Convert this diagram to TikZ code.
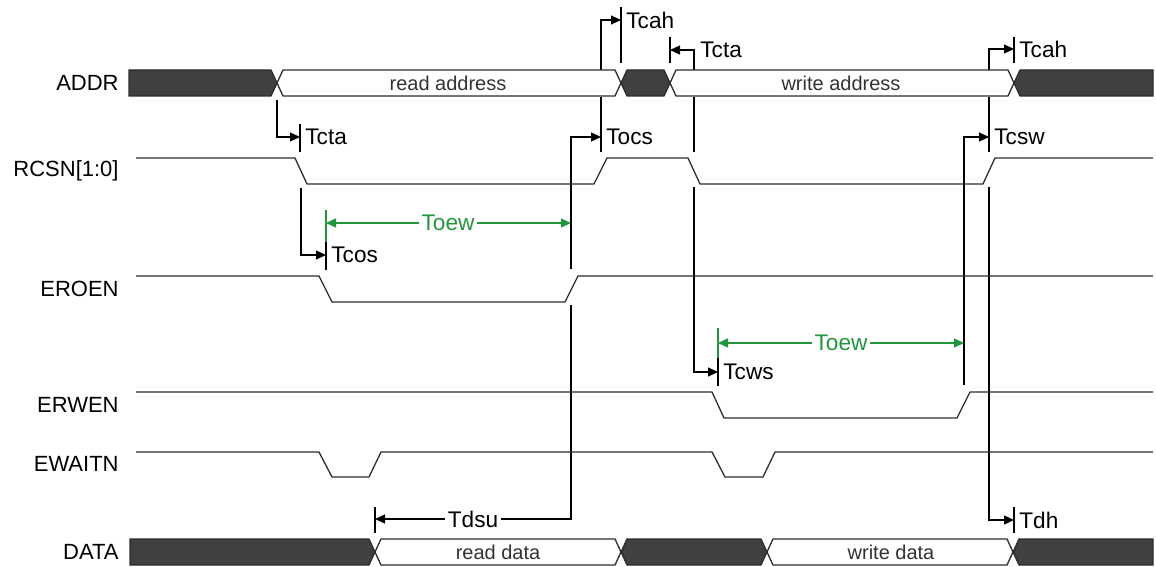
\documentclass[tikz,border=0pt]{standalone}
\usepackage{fontspec}
\setmainfont{Liberation Sans}
\usetikzlibrary{arrows.meta}
\definecolor{busgray}{RGB}{64,64,64}
\definecolor{wire}{RGB}{45,45,45}
\definecolor{toegreen}{RGB}{34,150,60}

\tikzset{
  wave/.style={draw=wire, line width=0.65pt, line join=miter},
  busdark/.style={wave, fill=busgray},
  buswhite/.style={wave, fill=white},
  tline/.style={draw=black, line width=0.6pt},
  tarrow/.style={tline, -{Triangle[length=5pt,width=4.5pt]}},
  gline/.style={draw=toegreen, line width=0.6pt},
  garrow/.style={gline, -{Triangle[length=5pt,width=4.5pt]}},
  siglbl/.style={anchor=east, inner sep=0pt, font=\fontsize{11}{13}\selectfont},
  tlbl/.style={anchor=west, inner sep=1pt, font=\fontsize{11.3}{13}\selectfont},
  glbl/.style={inner sep=1pt, text=toegreen, font=\fontsize{11.3}{13}\selectfont},
  buslbl/.style={inner sep=0pt, text=black!80, font=\fontsize{10}{12}\selectfont}
}

\begin{document}
\begin{tikzpicture}[x=0.5pt, y=-0.5pt]
  \useasboundingbox (0,0) rectangle (1156,567);

  % signal names
  \node[siglbl] (addr) at (119,83) {ADDR};
  \node[siglbl] (rcsn) at (119,171) {RCSN[1:0]};
  \node[siglbl] (eroen) at (119,289) {EROEN};
  \node[siglbl] (erwen) at (119,405) {ERWEN};
  \node[siglbl] (ewaitn) at (119,464) {EWAITN};
  \node[siglbl] (data) at (119,552) {DATA};

  % read cycle timing
  \draw[tarrow] (277,100) |- (300,137);
  \draw[tline] (300,124) -- (300,152);
  \node[tlbl] (tctaR) at (303,137) {Tcta};
  \draw[tarrow] (301,188) |- (326,255);
  \draw[tline] (326,242) -- (326,270);
  \draw[gline] (326,210) -- (326,242);
  \node[tlbl] (tcos) at (329,255) {Tcos};
  \node[glbl] (toewR) at (448,223) {Toew};
  \draw[garrow] (toewR.west) -- (326,223);
  \draw[garrow] (toewR.east) -- (571,223);
  \draw[tarrow] (571,269) |- (601,137);
  \draw[tline] (601,97) -- (601,152);
  \node[tlbl] (tocs) at (604,137) {Tocs};
  \draw[tarrow] (601,70) |- (621,20);
  \draw[tline] (621,7) -- (621,63);
  \node[tlbl] (tcahR) at (624,20) {Tcah};
  \node[tlbl, anchor=center] (tdsu) at (473,519) {Tdsu};
  \draw[tline] (571,305) |- (tdsu.east);
  \draw[tarrow] (tdsu.west) -- (375,519);
  \draw[tline] (375,507) -- (375,533);

  % write cycle timing
  \draw[tline] (670,37) -- (670,63);
  \draw[tarrow] (694,70) |- (670,50);
  \node[tlbl] (tctaW) at (698,50) {Tcta};
  \draw[tline] (694,97) -- (694,152);
  \draw[tarrow] (694,187) |- (718,372);
  \draw[tline] (718,358) -- (718,386);
  \draw[gline] (718,328) -- (718,358);
  \node[tlbl] (tcws) at (721,372) {Tcws};
  \node[glbl] (toewW) at (841,343) {Toew};
  \draw[garrow] (toewW.west) -- (718,343);
  \draw[garrow] (toewW.east) -- (964,343);
  \draw[tarrow] (964,385) |- (989,137);
  \draw[tline] (989,97) -- (989,152);
  \node[tlbl] (tcsw) at (992,137) {Tcsw};
  \draw[tarrow] (989,70) |- (1014,49);
  \draw[tline] (1014,37) -- (1014,63);
  \node[tlbl] (tcahW) at (1017,49) {Tcah};
  \draw[tarrow] (989,187) |- (1014,520);
  \draw[tline] (1014,507) -- (1014,533);
  \node[tlbl] (tdh) at (1017,520) {Tdh};

  % ADDR bus
  \draw[busdark] (129,70) -- (271,70) -- (277,83) -- (271,96) -- (129,96) -- cycle;
  \draw[buswhite] (277,83) -- (283,70) -- (615,70) -- (621,83) -- (615,96) -- (283,96) -- cycle;
  \draw[busdark] (621,83) -- (627,70) -- (664,70) -- (670,83) -- (664,96) -- (627,96) -- cycle;
  \draw[buswhite] (670,83) -- (676,70) -- (1008,70) -- (1014,83) -- (1008,96) -- (676,96) -- cycle;
  \draw[busdark] (1014,83) -- (1020,70) -- (1153,70) -- (1153,96) -- (1020,96) -- cycle;
  \node[buslbl] (rdaddr) at (448,83) {read address};
  \node[buslbl] (wraddr) at (841,83) {write address};

  % control signals
  \draw[wave] (136,158) -- (295,158) -- (307,184) -- (594,184) -- (607,158) -- (688,158)
    -- (700,184) -- (983,184) -- (995,158) -- (1153,158);
  \draw[wave] (136,276) -- (319,276) -- (332,302) -- (565,302) -- (578,276) -- (1153,276);
  \draw[wave] (136,392) -- (712,392) -- (724,418) -- (957,418) -- (970,392) -- (1153,392);
  \draw[wave] (136,452) -- (319,452) -- (332,477) -- (369,477) -- (381,452) -- (712,452)
    -- (725,477) -- (763,477) -- (775,452) -- (1153,452);

  % DATA bus
  \draw[busdark] (130,539) -- (369,539) -- (375,552) -- (369,565) -- (130,565) -- cycle;
  \draw[buswhite] (375,552) -- (381,539) -- (615,539) -- (621,552) -- (615,565) -- (381,565) -- cycle;
  \draw[busdark] (621,552) -- (627,539) -- (761,539) -- (767,552) -- (761,565) -- (627,565) -- cycle;
  \draw[buswhite] (767,552) -- (773,539) -- (1007,539) -- (1013,552) -- (1007,565) -- (773,565) -- cycle;
  \draw[busdark] (1013,552) -- (1019,539) -- (1153,539) -- (1153,565) -- (1019,565) -- cycle;
  \node[buslbl] (rddata) at (498,552) {read data};
  \node[buslbl] (wrdata) at (891,552) {write data};
\end{tikzpicture}
\end{document}
